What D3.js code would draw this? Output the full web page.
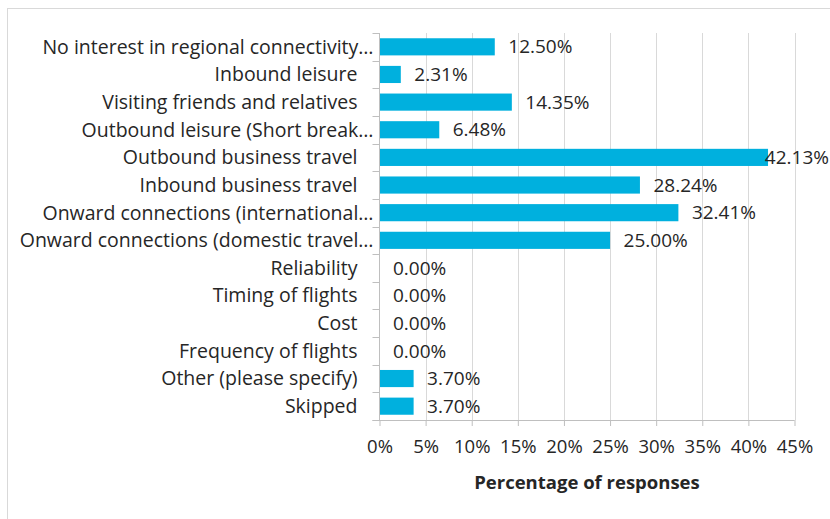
<!DOCTYPE html>
<html>
<head>
<meta charset="utf-8">
<script src="https://cdn.jsdelivr.net/npm/d3@7"></script>
<style>
  html, body { margin: 0; padding: 0; background: #fff; }
  svg { display: block; font-family: "Open Sans", sans-serif; }
</style>
</head>
<body>
<svg id="chart" width="830" height="519"></svg>
<script>
// Reasons for using regional air services (share of survey responses)
const categories = [
  "No interest in regional connectivity…",
  "Inbound leisure",
  "Visiting friends and relatives",
  "Outbound leisure (Short break…",
  "Outbound business travel",
  "Inbound business travel",
  "Onward connections (international…",
  "Onward connections (domestic travel…",
  "Reliability",
  "Timing of flights",
  "Cost",
  "Frequency of flights",
  "Other (please specify)",
  "Skipped"
];
const values = [12.50, 2.31, 14.35, 6.48, 42.13, 28.24, 32.41, 25.00, 0.00, 0.00, 0.00, 0.00, 3.70, 3.70];
const xTicks = [0, 5, 10, 15, 20, 25, 30, 35, 40, 45];
const xTitle = "Percentage of responses";

const svg = d3.select("#chart");
const W = 830, H = 519;
const plot = { left: 379.5, right: 794.5, top: 33, bottom: 420 };
const textColor = "#262626";
const barColor = "#00b0de";
const fontFamily = "'Open Sans', sans-serif";

// chart frame
svg.append("rect")
  .attr("x", 7.5).attr("y", 8.5)
  .attr("width", 1000).attr("height", 1000)
  .attr("fill", "none").attr("stroke", "#d9d9d9");

const x = d3.scaleLinear().domain([0, 45]).range([plot.left, plot.right]);
const y = d3.scaleBand().domain(categories).range([plot.top, plot.bottom]).paddingInner(0.38).paddingOuter(0.19);

// vertical gridlines
svg.append("g").selectAll("line")
  .data(xTicks.filter(t => t > 0))
  .join("line")
  .attr("x1", d => Math.round(x(d)) + 0.5).attr("x2", d => Math.round(x(d)) + 0.5)
  .attr("y1", plot.top).attr("y2", plot.bottom)
  .attr("stroke", "#d9d9d9").attr("stroke-width", 1);

// bars
svg.append("g").selectAll("rect")
  .data(values)
  .join("rect")
  .attr("x", x(0))
  .attr("y", (d, i) => y(categories[i]))
  .attr("width", d => x(d) - x(0))
  .attr("height", y.bandwidth())
  .attr("fill", barColor);

// x axis
const xAxis = d3.axisBottom(x)
  .tickValues(xTicks)
  .tickFormat(d => d + "%")
  .tickSize(6)
  .tickPadding(14);
const gx = svg.append("g")
  .attr("transform", `translate(0,${plot.bottom})`)
  .call(xAxis);
gx.select(".domain").attr("stroke", "#bfbfbf").attr("d", `M${plot.left - 7},0.5H${plot.right}`);
gx.selectAll(".tick line").attr("stroke", "#bfbfbf");
gx.selectAll(".tick text")
  .attr("fill", textColor)
  .style("font-size", "18.5px")
  .style("font-family", fontFamily);

// y axis line and tick marks between categories
const bounds = d3.range(categories.length + 1).map(i => plot.top + i * (plot.bottom - plot.top) / categories.length);
svg.append("line")
  .attr("x1", plot.left).attr("x2", plot.left)
  .attr("y1", plot.top).attr("y2", plot.bottom)
  .attr("stroke", "#bfbfbf");
svg.append("g").selectAll("line")
  .data(bounds)
  .join("line")
  .attr("x1", plot.left - 7).attr("x2", plot.left)
  .attr("y1", d => Math.round(d) + 0.5).attr("y2", d => Math.round(d) + 0.5)
  .attr("stroke", "#bfbfbf");

// category labels
svg.append("g").selectAll("text")
  .data(categories)
  .join("text")
  .attr("x", d => d.endsWith("…") ? plot.left - 6 : plot.left - 22)
  .attr("y", d => y(d) + y.bandwidth() / 2)
  .attr("dy", "0.35em")
  .attr("text-anchor", "end")
  .attr("fill", textColor)
  .style("font-size", "19.5px")
  .text(d => d);

// value labels
svg.append("g").selectAll("text")
  .data(values)
  .join("text")
  .attr("y", (d, i) => y(categories[i]) + y.bandwidth() / 2)
  .attr("dy", "0.35em")
  .attr("fill", textColor)
  .style("font-size", "19px")
  .text(d => d.toFixed(2) + "%")
  .attr("x", function(d) {
    const w = this.getComputedTextLength();
    return Math.min(x(d) + 13.5, W - 1 - w);
  });

// axis title
svg.append("text")
  .attr("x", (plot.left + plot.right) / 2)
  .attr("y", 483)
  .attr("dy", "0.35em")
  .attr("text-anchor", "middle")
  .attr("fill", textColor)
  .style("font-size", "18.5px")
  .style("font-weight", "bold")
  .text(xTitle);
</script>
</body>
</html>
